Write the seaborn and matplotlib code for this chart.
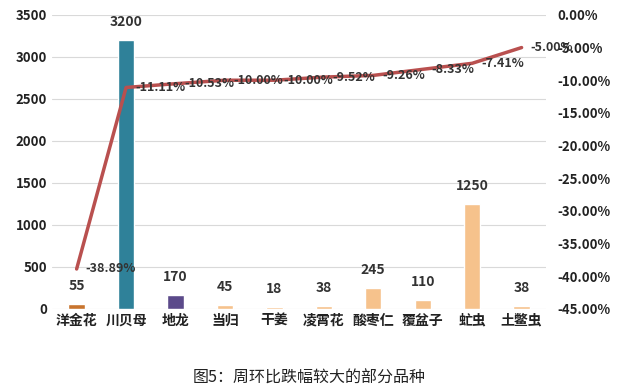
import matplotlib
matplotlib.use("Agg")
import matplotlib.pyplot as plt
import seaborn as sns
import pandas as pd
from matplotlib.ticker import FuncFormatter

categories = ["洋金花", "川贝母", "地龙", "当归", "干姜", "凌霄花", "酸枣仁", "覆盆子", "虻虫", "土鳖虫"]
prices = [55, 3200, 170, 45, 18, 38, 245, 110, 1250, 38]
change_pct = [-38.89, -11.11, -10.53, -10.00, -10.00, -9.52, -9.26, -8.33, -7.41, -5.00]
bar_colors = ["#C8742E", "#2F8199", "#5B4A8A", "#F6C28C", "#F6C28C",
              "#F6C28C", "#F6C28C", "#F6C28C", "#F6C28C", "#F6C28C"]

sns.set_style("white")
plt.rcParams["font.family"] = ["Noto Sans CJK SC", "DejaVu Sans"]

df = pd.DataFrame({"品种": categories, "价格": prices})

fig = plt.figure(figsize=(6.18, 3.92), dpi=100)
ax = fig.add_axes([0.084, 0.212, 0.80, 0.75])

sns.barplot(data=df, x="品种", y="价格", hue="品种", palette=bar_colors,
            saturation=1, legend=False, width=0.33, ax=ax)
ax.set_ylim(0, 3500)
ax.set_yticks(range(0, 3501, 500))
ax.set_xlabel("")
ax.set_ylabel("")
ax.yaxis.grid(True, color="#D9D9D9", linewidth=0.8)
ax.set_axisbelow(True)
for s in ax.spines.values():
    s.set_visible(False)
ax.tick_params(axis="both", length=0, colors="#222222")
for lab in ax.get_yticklabels():
    lab.set_fontweight("bold")
    lab.set_fontsize(9.5)
for lab in ax.get_xticklabels():
    lab.set_fontweight("bold")
    lab.set_fontsize(10)

for i, v in enumerate(prices):
    ax.text(i, v + 130, str(v), ha="center", va="bottom", fontsize=10,
            fontweight="bold", color="#333333")

ax2 = ax.twinx()
ax2.plot(range(len(categories)), change_pct, color="#B9504F", linewidth=2.5)
ax2.set_ylim(-45, 0)
ax2.set_yticks(range(-45, 1, 5))
ax2.yaxis.set_major_formatter(FuncFormatter(lambda v, p: f"{v:.2f}%"))
for s in ax2.spines.values():
    s.set_visible(False)
ax2.tick_params(axis="y", length=0, colors="#222222", pad=8)
for lab in ax2.get_yticklabels():
    lab.set_fontweight("bold")
    lab.set_fontsize(9.5)

for i, v in enumerate(change_pct):
    ax2.text(i + 0.18, v, f"{v:.2f}%", ha="left", va="center", fontsize=9,
             fontweight="bold", color="#333333")

ax.set_xlim(-0.5, len(categories) - 0.5)

fig.text(0.5, 0.035, "图5：周环比跌幅较大的部分品种", ha="center", va="center",
         fontsize=11.5, color="#222222")

fig.savefig("out.png", dpi=100)
